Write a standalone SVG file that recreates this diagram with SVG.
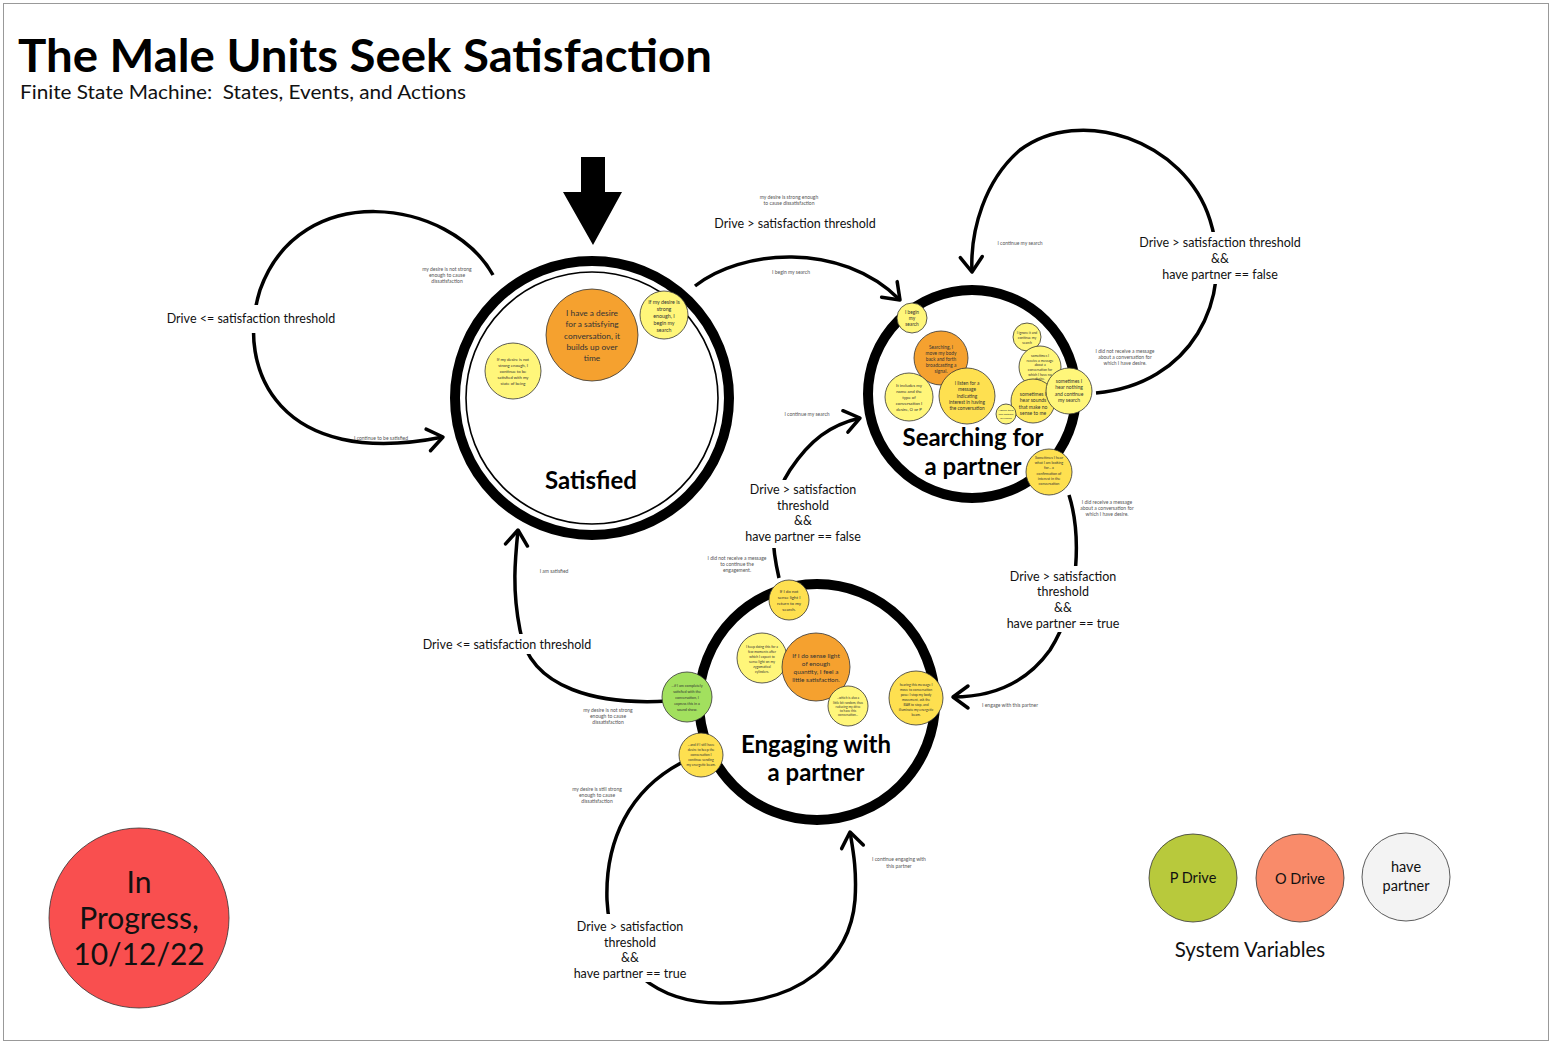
<svg xmlns="http://www.w3.org/2000/svg" width="1552" height="1044" viewBox="0 0 1552 1044">
<style>
text{font-family:Lato,"Open Sans","Liberation Sans",sans-serif;text-anchor:middle}
.ring{fill:none;stroke:#000;stroke-width:10}
.c{stroke:#333;stroke-width:0.8}
.ly{fill:#fff67a}.my{fill:#fee050}.or{fill:#f5a12f}.gr{fill:#a2e05e}
.t{fill:#333}
.ev{font-size:5px;fill:#555}
.lab{font-size:12.5px;fill:#111}
.st{font-size:24px;font-weight:bold;fill:#000}
.conn{fill:none;stroke:#000;stroke-width:3.5;marker-end:url(#ah)}
.bg{fill:#fff}
</style>
<defs>
<marker id="ah" markerUnits="userSpaceOnUse" viewBox="-20 -15 25 30" markerWidth="25" markerHeight="30" refX="0" refY="0" orient="auto">
<path d="M-15,-11 L0,0 L-15,11" fill="none" stroke="#000" stroke-width="3.5" stroke-linecap="round" stroke-linejoin="round"/>
</marker>
</defs>
<rect x="3.5" y="3.5" width="1545" height="1037" fill="#fff" stroke="#999" stroke-width="1"/>
<g id="title">
<text x="18" y="72" textLength="694" lengthAdjust="spacingAndGlyphs" style="text-anchor:start;font-size:45px;font-weight:bold;fill:#000">The Male Units Seek Satisfaction</text>
<text x="20" y="99" textLength="446" lengthAdjust="spacingAndGlyphs" xml:space="preserve" style="text-anchor:start;font-size:19.5px;fill:#111">Finite State Machine:  States, Events, and Actions</text>
</g>
<g id="connectors">
<polygon points="581,157 605,157 605,192 622,192 593,245 563,192 581,192" fill="#000"/>
<path class="conn" d="M493,275 C450,198 300,178 260,290 C235,370 280,470 443,437"/>
<path class="conn" d="M695,286 C740,250 840,240 900,300"/>
<path class="conn" d="M1096,393 C1190,385 1235,300 1210,220 C1185,140 1080,105 1020,150 C985,180 970,230 972,272"/>
<path class="conn" d="M1069,495 C1080,530 1082,600 1050,650 C1025,685 990,697 953,697"/>
<path class="conn" d="M779,578 C770,540 770,500 790,470 C810,440 830,425 860,418"/>
<path class="conn" d="M668,701 C600,705 530,690 520,630 C512,590 515,560 518,530"/>
<path class="conn" d="M681,763 C630,790 605,840 607,900 C610,970 660,1003 720,1003 C800,1003 850,960 855,900 C857,870 853,850 850,832"/>
</g>
<g id="labels">
<rect class="bg" x="164" y="305" width="176" height="28"/>
<rect class="bg" x="1136" y="232" width="168" height="52"/>
<rect class="bg" x="1004" y="566" width="120" height="66"/>
<rect class="bg" x="742" y="480" width="124" height="68"/>
<rect class="bg" x="420" y="634" width="176" height="20"/>
<rect class="bg" x="570" y="914" width="122" height="68"/>
<text class="ev" x="447" y="271">my desire is not strong</text>
<text class="ev" x="447" y="277">enough to cause</text>
<text class="ev" x="447" y="283">dissatisfaction</text>
<text class="lab" x="251" y="323">Drive &lt;= satisfaction threshold</text>
<text class="ev" x="381" y="440">I continue to be satisfied</text>
<text class="ev" x="789" y="199">my desire is strong enough</text>
<text class="ev" x="789" y="205">to cause dissatisfaction</text>
<text class="lab" x="795" y="228">Drive &gt; satisfaction threshold</text>
<text class="ev" x="791" y="274">I begin my search</text>
<text class="ev" x="1020" y="245">I continue my search</text>
<text class="lab" x="1220" y="247">Drive &gt; satisfaction threshold</text>
<text class="lab" x="1220" y="263">&amp;&amp;</text>
<text class="lab" x="1220" y="279">have partner == false</text>
<text class="ev" x="1125" y="353">I did not receive a message</text>
<text class="ev" x="1125" y="359">about a conversation for</text>
<text class="ev" x="1125" y="365">which I have desire.</text>
<text class="ev" x="1107" y="504">I did receive a message</text>
<text class="ev" x="1107" y="510">about a conversation for</text>
<text class="ev" x="1107" y="516">which I have desire.</text>
<text class="lab" x="1063" y="581">Drive &gt; satisfaction</text>
<text class="lab" x="1063" y="596">threshold</text>
<text class="lab" x="1063" y="612">&amp;&amp;</text>
<text class="lab" x="1063" y="628">have partner == true</text>
<text class="ev" x="1010" y="707">I engage with this partner</text>
<text class="ev" x="807" y="416">I continue my search</text>
<text class="lab" x="803" y="494">Drive &gt; satisfaction</text>
<text class="lab" x="803" y="510">threshold</text>
<text class="lab" x="803" y="525">&amp;&amp;</text>
<text class="lab" x="803" y="541">have partner == false</text>
<text class="ev" x="737" y="560">I did not receive a message</text>
<text class="ev" x="737" y="566">to continue the</text>
<text class="ev" x="737" y="572">engagement.</text>
<text class="ev" x="554" y="573">I am satisfied</text>
<text class="lab" x="507" y="649">Drive &lt;= satisfaction threshold</text>
<text class="ev" x="608" y="712">my desire is not strong</text>
<text class="ev" x="608" y="718">enough to cause</text>
<text class="ev" x="608" y="724">dissatisfaction</text>
<text class="ev" x="597" y="791">my desire is still strong</text>
<text class="ev" x="597" y="797">enough to cause</text>
<text class="ev" x="597" y="803">dissatisfaction</text>
<text class="lab" x="630" y="931">Drive &gt; satisfaction</text>
<text class="lab" x="630" y="947">threshold</text>
<text class="lab" x="630" y="962">&amp;&amp;</text>
<text class="lab" x="630" y="978">have partner == true</text>
<text class="ev" x="899" y="861">I continue engaging with</text>
<text class="ev" x="899" y="868">this partner</text>
</g>
<g id="satisfied">
<circle class="ring" cx="592" cy="398" r="137"/>
<circle cx="592" cy="398" r="126" fill="none" stroke="#000" stroke-width="1.6"/>
<text class="st" x="591" y="489">Satisfied</text>
<circle class="c or" cx="592" cy="335" r="46"/>
<g class="t" style="font-size:8.3px">
<text x="592" y="316">I have a desire</text>
<text x="592" y="327">for a satisfying</text>
<text x="592" y="339">conversation, it</text>
<text x="592" y="350">builds up over</text>
<text x="592" y="361">time</text>
</g>
<circle class="c ly" cx="664" cy="315" r="24"/>
<g class="t" style="font-size:5.3px">
<text x="664" y="304">If my desire is</text>
<text x="664" y="311">strong</text>
<text x="664" y="318">enough, I</text>
<text x="664" y="325">begin my</text>
<text x="664" y="332">search</text>
</g>
<circle class="c ly" cx="513" cy="371" r="28"/>
<g class="t" style="font-size:4.2px">
<text x="513" y="361">If my desire is not</text>
<text x="513" y="367">strong enough, I</text>
<text x="513" y="373">continue to be</text>
<text x="513" y="379">satisfied with my</text>
<text x="513" y="385">state of being</text>
</g>
</g>
<g id="searching">
<circle class="ring" cx="972" cy="394" r="104"/>
<text class="st" x="973" y="446">Searching for</text>
<text class="st" x="973" y="475">a partner</text>
<circle class="c ly" cx="912" cy="318" r="15"/>
<g class="t" style="font-size:4.8px">
<text x="912" y="314">I begin</text>
<text x="912" y="320">my</text>
<text x="912" y="326">search</text>
</g>
<circle class="c or" cx="941" cy="358" r="27"/>
<g class="t" style="font-size:4.8px">
<text x="941" y="349">Searching, I</text>
<text x="941" y="355">move my body</text>
<text x="941" y="361">back and forth</text>
<text x="941" y="367">broadcasting a</text>
<text x="941" y="373">signal.</text>
</g>
<circle class="c ly" cx="909" cy="397" r="24"/>
<g class="t" style="font-size:4.3px">
<text x="909" y="387">It includes my</text>
<text x="909" y="393">name and the</text>
<text x="909" y="399">type of</text>
<text x="909" y="405">conversation I</text>
<text x="909" y="411">desire, O or P</text>
</g>
<circle class="c my" cx="967" cy="396" r="28"/>
<g class="t" style="font-size:4.8px">
<text x="967" y="385">I listen for a</text>
<text x="967" y="391">message</text>
<text x="967" y="398">indicating</text>
<text x="967" y="404">interest in having</text>
<text x="967" y="410">the conversation</text>
</g>
<circle class="c ly" cx="1027" cy="337" r="14"/>
<g class="t" style="font-size:3.4px">
<text x="1027" y="334">I ignore it and</text>
<text x="1027" y="339">continue my</text>
<text x="1027" y="344">search</text>
</g>
<circle class="c ly" cx="1040" cy="367" r="21"/>
<g class="t" style="font-size:3.4px">
<text x="1040" y="357">sometimes I</text>
<text x="1040" y="362">receive a message</text>
<text x="1040" y="366">about a</text>
<text x="1040" y="371">conversation for</text>
<text x="1040" y="376">which I have no</text>
<text x="1040" y="380">desire.</text>
</g>
<circle class="c" cx="1033" cy="401" r="22" fill="#fee95c"/>
<g class="t" style="font-size:5px">
<text x="1033" y="396">sometimes I</text>
<text x="1033" y="402">hear sounds</text>
<text x="1033" y="409">that make no</text>
<text x="1033" y="415">sense to me</text>
</g>
<circle class="c ly" cx="1069" cy="391" r="23"/>
<g class="t" style="font-size:5px">
<text x="1069" y="383">sometimes I</text>
<text x="1069" y="389">hear nothing</text>
<text x="1069" y="396">and continue</text>
<text x="1069" y="402">my search</text>
</g>
<circle class="c ly" cx="1006" cy="414" r="10"/>
<g class="t" style="font-size:2.6px">
<text x="1006" y="411">I ignore them</text>
<text x="1006" y="415">and continue</text>
<text x="1006" y="419">my search</text>
</g>
<circle class="c my" cx="1049" cy="472" r="23"/>
<g class="t" style="font-size:3.7px">
<text x="1049" y="459">Sometimes I hear</text>
<text x="1049" y="464">what I am looking</text>
<text x="1049" y="469">for... a</text>
<text x="1049" y="475">confirmation of</text>
<text x="1049" y="480">interest in the</text>
<text x="1049" y="485">conversation</text>
</g>
</g>
<g id="engaging">
<circle class="ring" cx="817" cy="702" r="118"/>
<text class="st" x="816" y="753">Engaging with</text>
<text class="st" x="816" y="781">a partner</text>
<circle class="c my" cx="789" cy="600" r="20"/>
<g class="t" style="font-size:4.4px">
<text x="789" y="593">If I do not</text>
<text x="789" y="599">sense light I</text>
<text x="789" y="605">return to my</text>
<text x="789" y="611">search.</text>
</g>
<circle class="c ly" cx="762" cy="658" r="25"/>
<g class="t" style="font-size:3.4px">
<text x="762" y="648">I keep doing this for a</text>
<text x="762" y="653">few moments after</text>
<text x="762" y="658">which I expect to</text>
<text x="762" y="663">sense light on my</text>
<text x="762" y="668">zygomatical</text>
<text x="762" y="673">cylinders.</text>
</g>
<circle class="c or" cx="816" cy="667" r="34"/>
<g class="t" style="font-size:6.4px">
<text x="816" y="658">If I do sense light</text>
<text x="816" y="666">of enough</text>
<text x="816" y="674">quantity, I feel a</text>
<text x="816" y="682">little satisfaction.</text>
</g>
<circle class="c ly" cx="848" cy="706" r="20"/>
<g class="t" style="font-size:3.2px">
<text x="848" y="699">...which is also a</text>
<text x="848" y="704">little bit random, thus</text>
<text x="848" y="708">reducing my drive</text>
<text x="848" y="712">to have this</text>
<text x="848" y="716">conversation...</text>
</g>
<circle class="c my" cx="916" cy="698" r="27"/>
<g class="t" style="font-size:3.4px">
<text x="916" y="686">hearing this message I</text>
<text x="916" y="691">move to conversation</text>
<text x="916" y="696">pose: I stop my body</text>
<text x="916" y="701">movement, ask the</text>
<text x="916" y="706">BAR to stop, and</text>
<text x="916" y="711">illuminate my energetic</text>
<text x="916" y="716">beam.</text>
</g>
<circle class="c gr" cx="687" cy="697" r="25"/>
<g class="t" style="font-size:3.7px">
<text x="687" y="687">...if I am completely</text>
<text x="687" y="693">satisfied with the</text>
<text x="687" y="699">conversation, I</text>
<text x="687" y="705">express this in a</text>
<text x="687" y="711">sound show.</text>
</g>
<circle class="c my" cx="701" cy="755" r="22"/>
<g class="t" style="font-size:3.4px">
<text x="701" y="746">...and if I still have</text>
<text x="701" y="751">desire to keep the</text>
<text x="701" y="756">conversation I</text>
<text x="701" y="761">continue sending</text>
<text x="701" y="766">my energetic beam.</text>
</g>
</g>
<g id="status">
<circle cx="139" cy="918" r="90" fill="#f94f4f" stroke="#333" stroke-width="0.8"/>
<text x="139" y="893" style="font-size:30px;fill:#111">In</text>
<text x="139" y="929" style="font-size:30px;fill:#111">Progress,</text>
<text x="139" y="965" style="font-size:30px;fill:#111">10/12/22</text>
</g>
<g id="var-pdrive">
<circle cx="1193" cy="878" r="44" fill="#b8c93c" stroke="#333" stroke-width="0.8"/>
<text x="1193" y="883" style="font-size:14.5px;fill:#111">P Drive</text>
</g>
<g id="var-odrive">
<circle cx="1300" cy="878" r="44" fill="#f98b6a" stroke="#333" stroke-width="0.8"/>
<text x="1300" y="884" style="font-size:14.5px;fill:#111">O Drive</text>
</g>
<g id="var-partner">
<circle cx="1406" cy="877" r="44" fill="#f3f3f3" stroke="#333" stroke-width="0.8"/>
<text x="1406" y="872" style="font-size:14.5px;fill:#111">have</text>
<text x="1406" y="891" style="font-size:14.5px;fill:#111">partner</text>
</g>
<text x="1250" y="957" style="font-size:20.5px;fill:#111">System Variables</text>
</svg>
